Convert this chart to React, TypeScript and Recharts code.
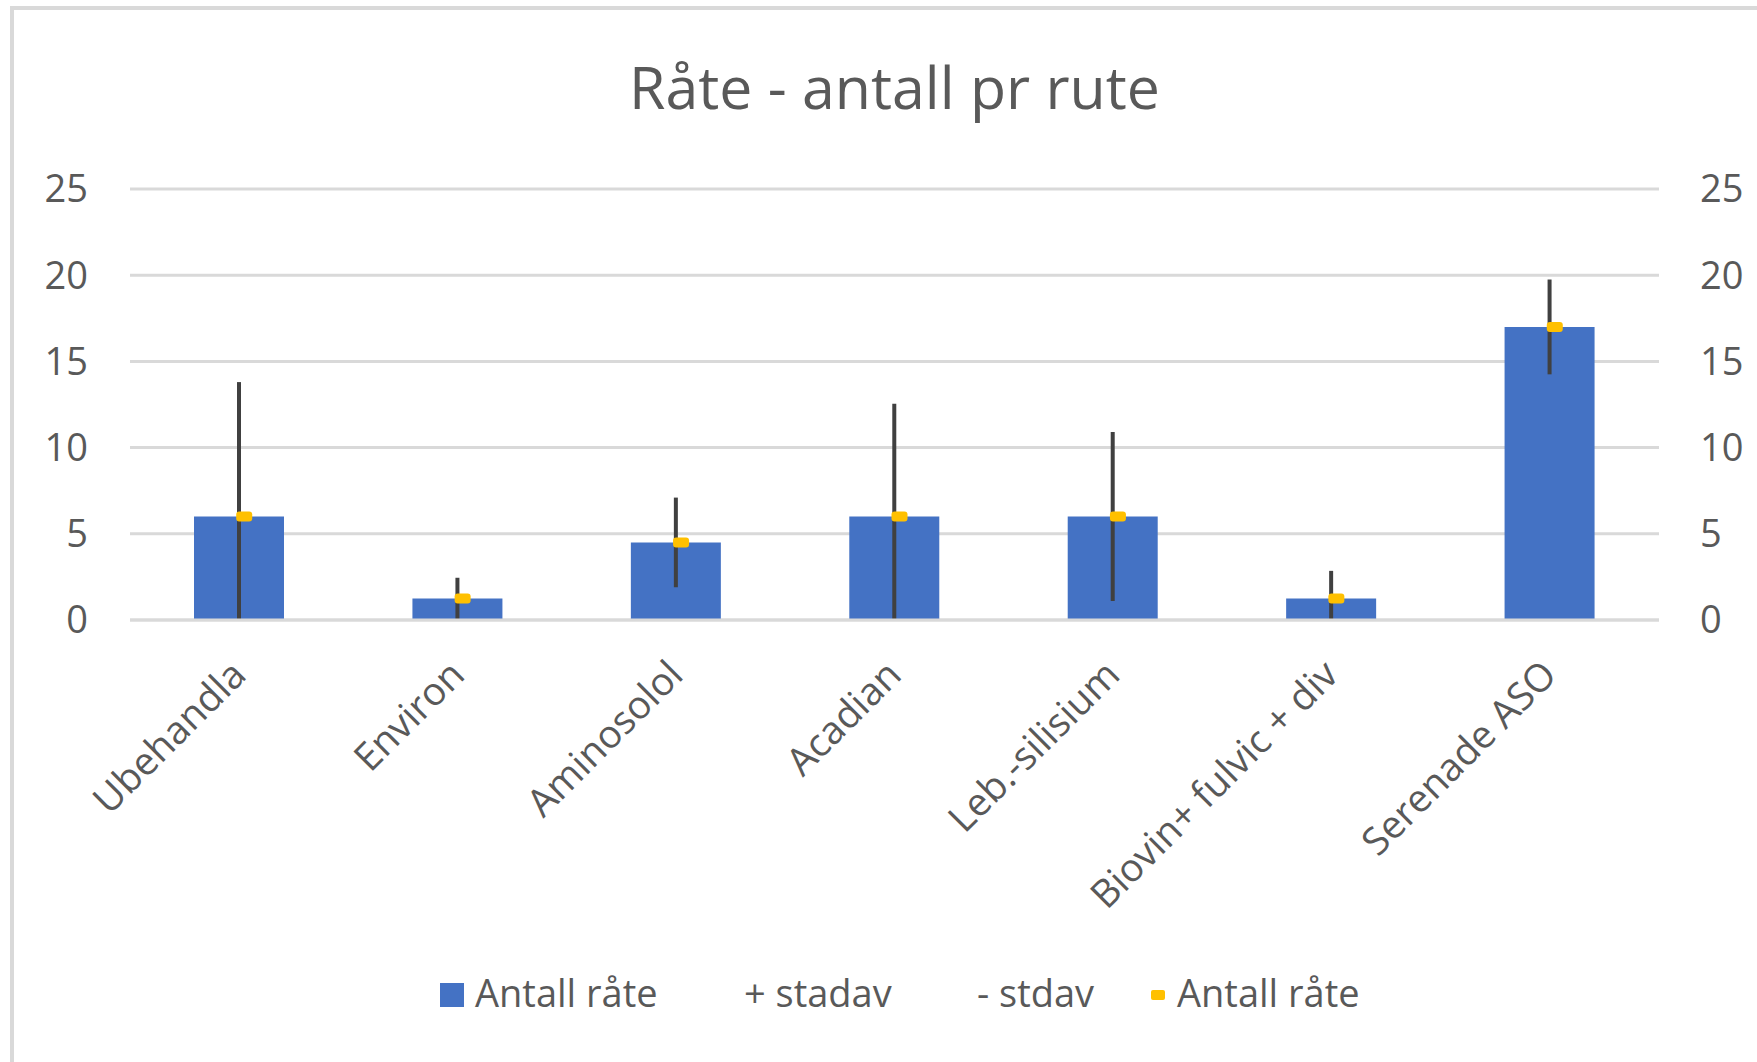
import { ComposedChart, Bar, Line, XAxis, YAxis, CartesianGrid, ErrorBar, Legend } from 'recharts'

const categories = ['Ubehandla', 'Environ', 'Aminosolol', 'Acadian', 'Leb.-silisium', 'Biovin+ fulvic + div', 'Serenade ASO']
const antallRate = [6, 1.25, 4.5, 6, 6, 1.25, 17]
const stdav = [7.8, 1.2, 2.6, 6.55, 4.9, 1.6, 2.75]
const yTicks = [0, 5, 10, 15, 20, 25]

// the minus whisker stops at the axis (plot area clips it in the original)
const data = categories.map((name, i) => ({
  name,
  value: antallRate[i],
  err: [Math.min(stdav[i], antallRate[i]), stdav[i]],
}))

const FONT = '"Open Sans", sans-serif'
const TEXT = '#595959'
const GRID = '#d9d9d9'

const XTick = (props: any) => {
  const { x, y, payload } = props
  return (
    <g transform={`translate(${x + 9},${y + 57})`}>
      <text textAnchor="end" transform="rotate(-45)" fill={TEXT} fontSize={38.5} fontFamily={FONT}>
        {payload.value}
      </text>
    </g>
  )
}

const Marker = (props: any) => {
  const { cx, cy } = props
  if (cx == null || cy == null) return null
  return <rect x={cx - 3} y={cy - 5} width={16} height={10} rx={3} fill="#FFC000" />
}

const legendItems = [
  { label: 'Antall råte', left: 440, marker: 'bar' },
  { label: '+ stadav', left: 744, marker: 'none' },
  { label: '- stdav', left: 977, marker: 'none' },
  { label: 'Antall råte', left: 1151, marker: 'dot' },
]

const LegendContent = () => (
  <div style={{ position: 'relative', height: 60, fontFamily: FONT, fontSize: 38, color: TEXT }}>
    {legendItems.map((it, i) => (
      <div key={i} style={{ position: 'absolute', left: it.left, top: 0, height: 60 }}>
        {it.marker === 'bar' && (
          <div style={{ position: 'absolute', left: 0, top: 19, width: 24, height: 24, background: '#4472C4' }} />
        )}
        {it.marker === 'dot' && (
          <div style={{ position: 'absolute', left: 0, top: 26, width: 14, height: 10, background: '#FFC000', borderRadius: 2 }} />
        )}
        <span style={{ position: 'absolute', left: it.marker === 'bar' ? 35 : it.marker === 'dot' ? 26 : 0, top: 2, whiteSpace: 'nowrap', lineHeight: 'normal' }}>
          {it.label}
        </span>
      </div>
    ))}
  </div>
)

export default function App() {
  return (
    <div style={{ position: 'absolute', left: 0, top: 0, width: 1757, height: 1062, overflow: 'hidden', background: '#fff' }}>
      <div style={{ position: 'absolute', left: 10, top: 6, width: 1800, height: 1100, borderLeft: `4px solid ${GRID}`, borderTop: `4px solid ${GRID}` }} />
      <div style={{ position: 'absolute', left: 394.5, top: 46, width: 1000, textAlign: 'center', fontFamily: FONT, fontSize: 59, color: TEXT, lineHeight: 'normal', whiteSpace: 'nowrap' }}>
        Råte - antall pr rute
      </div>
      <div style={{ position: 'absolute', left: 0, top: 0 }}>
        <ComposedChart width={1757} height={1062} data={data} margin={{ top: 189, right: 0, bottom: 38, left: 0 }}>
          <CartesianGrid yAxisId="left" vertical={false} stroke={GRID} strokeWidth={3} />
          <XAxis
            dataKey="name"
            interval={0}
            height={344}
            tickSize={0}
            tickMargin={0}
            tickLine={false}
            axisLine={{ stroke: GRID, strokeWidth: 3 }}
            tick={<XTick />}
          />
          <YAxis
            yAxisId="left"
            width={130}
            domain={[0, 25]}
            ticks={yTicks}
            allowDataOverflow
            axisLine={false}
            tickLine={false}
            tickSize={0}
            tickMargin={42}
            tick={{ fill: TEXT, fontSize: 38, fontFamily: FONT }}
          />
          <YAxis
            yAxisId="right"
            orientation="right"
            width={98}
            domain={[0, 25]}
            ticks={yTicks}
            allowDataOverflow
            axisLine={false}
            tickLine={false}
            tickSize={0}
            tickMargin={41}
            tick={{ fill: TEXT, fontSize: 38, fontFamily: FONT, textAnchor: 'start' }}
          />
          <Bar yAxisId="left" dataKey="value" name="Antall råte" fill="#4472C4" barSize={90} isAnimationActive={false}>
            <ErrorBar dataKey="err" width={0} stroke="#404040" strokeWidth={4} direction="y" />
          </Bar>
          <Line
            yAxisId="right"
            dataKey="value"
            name="Antall råte"
            stroke="none"
            dot={<Marker />}
            activeDot={false}
            isAnimationActive={false}
          />
          <Legend verticalAlign="bottom" content={<LegendContent />} />
        </ComposedChart>
      </div>
    </div>
  )
}
